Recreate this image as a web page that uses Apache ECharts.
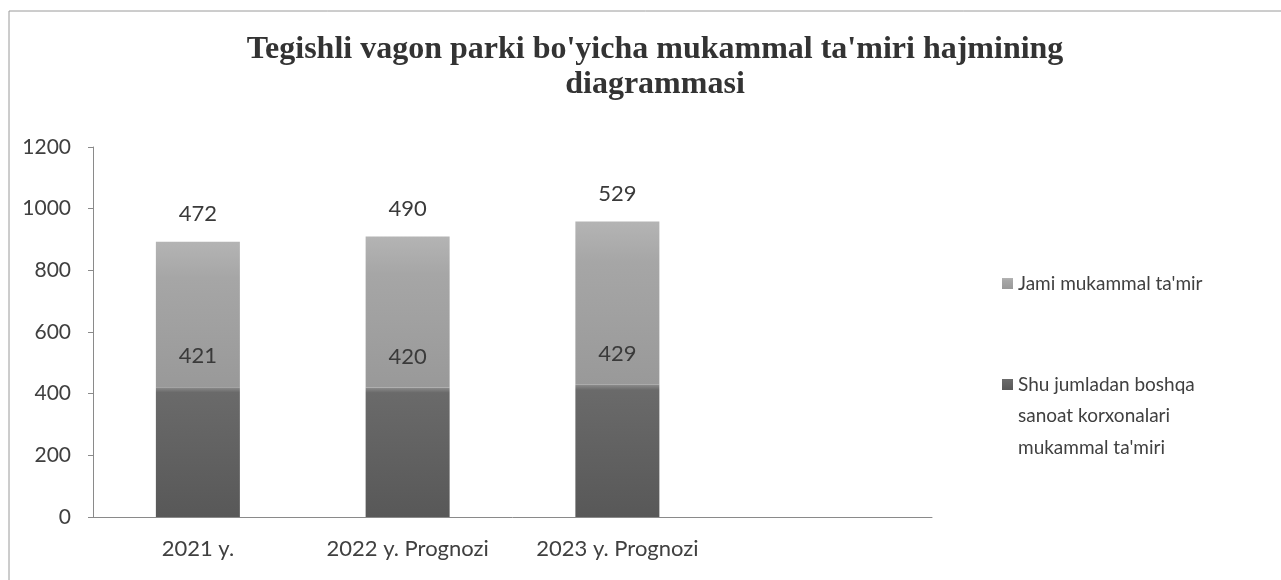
<!DOCTYPE html>
<html lang="en">
<head>
  <meta charset="UTF-8">
  <title>Tegishli vagon parki</title>
  <script src="https://cdn.jsdelivr.net/npm/echarts@6/dist/echarts.min.js"></script>
  <style>
    html, body { margin: 0; padding: 0; background: #fff; }
  </style>
</head>
<body>
<div id="main" style="width: 1281px; height: 580px;"></div>
<script>
  // chart data
  var categories = ['2021 y.', '2022 y. Prognozi', '2023 y. Prognozi', '']
  var boshqaValues = [421, 420, 429]
  var jamiValues = [472, 490, 529]
  var yTicks = { min: 0, max: 1200, interval: 200 }

  var nameJami = "Jami mukammal ta'mir"
  var nameBoshqa = "Shu jumladan boshqa sanoat korxonalari mukammal ta'miri"
  var boshqaLines = ['Shu jumladan boshqa', 'sanoat korxonalari', "mukammal ta'miri"]

  var labelFont = 'Lato, "Open Sans", sans-serif'
  var textColor = '#404040'
  var myChart = echarts.init(document.getElementById('main'))

  var option = {
    backgroundColor: '#fff',
    animation: false,
    title: {
      text: "Tegishli vagon parki bo'yicha mukammal ta'miri hajmining\ndiagrammasi",
      left: 650,
      textAlign: 'center',
      top: 27,
      textStyle: {
        fontFamily: '"Liberation Serif", "DejaVu Serif", serif',
        fontWeight: 'bold',
        fontSize: 32,
        lineHeight: 35,
        color: '#333'
      }
    },
    graphic: [
      {
        type: 'polyline',
        shape: { points: [[9, 600], [9, 11], [1290, 11]] },
        style: { stroke: '#9a9a9a', lineWidth: 1, fill: null }
      },
      // second and third lines of the long legend entry
      {
        type: 'text',
        left: 1018,
        top: 400,
        style: {
          text: boshqaLines.slice(1).join('\n'),
          font: '19px ' + labelFont,
          lineHeight: 32,
          fill: textColor
        }
      }
    ],
    legend: [
      {
        left: 997,
        top: 269,
        itemWidth: 11,
        itemHeight: 11,
        icon: 'rect',
        data: [nameJami],
        textStyle: { fontFamily: labelFont, fontSize: 19, color: textColor }
      },
      {
        left: 997,
        top: 370,
        itemWidth: 11,
        itemHeight: 11,
        icon: 'rect',
        data: [nameBoshqa],
        formatter: function () { return boshqaLines[0] },
        textStyle: { fontFamily: labelFont, fontSize: 19, color: textColor }
      }
    ],
    grid: {
      left: 93,
      right: 349,
      top: 147,
      bottom: 63
    },
    xAxis: {
      type: 'category',
      data: categories,
      axisLine: { lineStyle: { color: '#8a8a8a' } },
      axisTick: { length: 6, lineStyle: { color: '#8a8a8a' } },
      axisLabel: {
        interval: 0,
        hideOverlap: false,
        fontFamily: labelFont, fontSize: 22, color: textColor, margin: 21
      }
    },
    yAxis: {
      type: 'value',
      min: yTicks.min,
      max: yTicks.max,
      interval: yTicks.interval,
      splitLine: { show: false },
      axisLine: { show: true, lineStyle: { color: '#8a8a8a' } },
      axisTick: { show: true, length: 5, lineStyle: { color: '#8a8a8a' } },
      axisLabel: {
        fontFamily: labelFont, fontSize: 21, color: textColor, margin: 22,
        formatter: function (v) { return String(v) }
      }
    },
    series: [
      {
        name: nameBoshqa,
        type: 'bar',
        stack: 'total',
        barWidth: 84,
        data: boshqaValues,
        itemStyle: {
          color: new echarts.graphic.LinearGradient(0, 0, 0, 1, [
            { offset: 0, color: '#8c8c8c' },
            { offset: 0.04, color: '#6a6a6a' },
            { offset: 1, color: '#585858' }
          ])
        },
        label: {
          show: true,
          position: 'top',
          distance: 20,
          fontFamily: labelFont,
          fontSize: 22,
          color: '#3a3a3a'
        }
      },
      {
        name: nameJami,
        type: 'bar',
        stack: 'total',
        barWidth: 84,
        data: jamiValues,
        itemStyle: {
          color: new echarts.graphic.LinearGradient(0, 0, 0, 1, [
            { offset: 0, color: '#b4b4b4' },
            { offset: 0.25, color: '#a6a6a6' },
            { offset: 1, color: '#999999' }
          ])
        },
        label: {
          show: true,
          position: 'top',
          distance: 17,
          fontFamily: labelFont,
          fontSize: 22,
          color: '#3a3a3a'
        }
      }
    ]
  }
  myChart.setOption(option)
</script>
</body>
</html>
